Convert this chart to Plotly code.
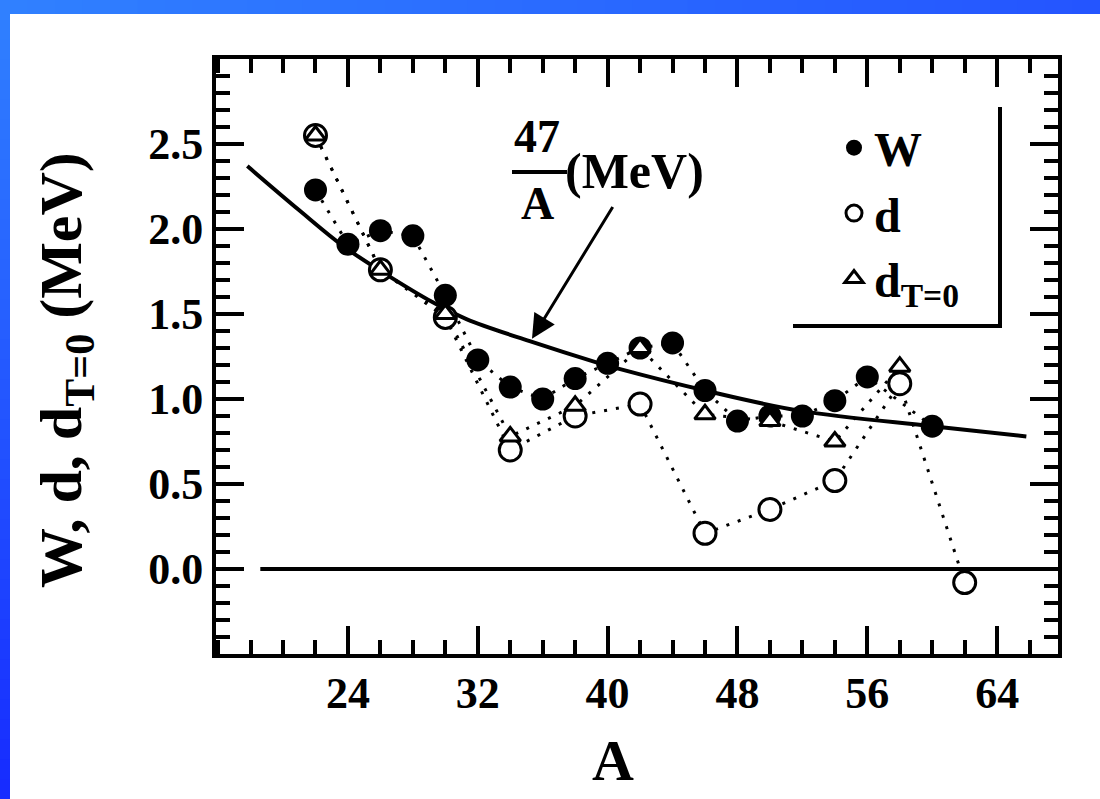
import plotly.graph_objects as go

# ---- measured values -------------------------------------------------------
# W (filled circles), even A
A_W = [22, 24, 26, 28, 30, 32, 34, 36, 38, 40, 42, 44, 46, 48, 50, 52, 54, 56, 60]
W = [2.23, 1.91, 1.99, 1.96, 1.61, 1.23, 1.07, 1.00, 1.12, 1.21, 1.30, 1.33,
     1.05, 0.87, 0.90, 0.90, 0.99, 1.13, 0.84]

# d (open circles), odd-odd N=Z nuclei
A_d = [22, 26, 30, 34, 38, 42, 46, 50, 54, 58, 62]
d = [2.55, 1.76, 1.48, 0.70, 0.90, 0.97, 0.21, 0.35, 0.52, 1.09, -0.08]

# d_{T=0} (open triangles)
A_dT = [22, 26, 30, 34, 38, 42, 46, 50, 54, 58]
dT = [2.55, 1.76, 1.50, 0.78, 0.96, 1.30, 0.91, 0.87, 0.75, 1.19]

# smooth reference curve labelled 47/A
A_curve = [17.8, 21.0, 23.7, 26.4, 29.2, 31.3, 35.2, 39.5, 40.6, 46.0, 51.9, 60.0, 65.8]
curve = [2.37, 2.11, 1.90, 1.73, 1.57, 1.47, 1.34, 1.21, 1.18, 1.05, 0.93, 0.84, 0.78]

# tick positions and labels
x_labelvals = [24, 32, 40, 48, 56, 64]
x_labeltext = ["24", "32", "40", "48", "56", "64"]
x_plainvals = [20, 28, 36, 44, 52, 60]          # long ticks without a label
y_tickvals = [0.0, 0.5, 1.0, 1.5, 2.0, 2.5]
y_ticktext = ["0.0", "0.5", "1.0", "1.5", "2.0", "2.5"]

# ---- geometry helpers ------------------------------------------------------
FONT = "Liberation Serif"
FIG_W, FIG_H = 1100, 799
L, R, T, B = 216, 42, 59, 145
PW = FIG_W - L - R
PH = FIG_H - T - B
X_RANGE = [15.87, 67.75]


def px(x):
    return (x - L) / PW


def py(y):
    return (FIG_H - B - y) / PH


def bold(size):
    return dict(family=FONT, size=size, color="black", weight="bold")


dotted = dict(color="black", width=3, dash="3px,9px")

fig = go.Figure()

fig.add_trace(go.Scatter(x=A_curve, y=curve, mode="lines", showlegend=False,
                         line=dict(color="black", width=4, shape="spline", smoothing=1.0),
                         hoverinfo="skip"))
for xs, ys in ((A_W, W), (A_d, d), (A_dT, dT)):
    fig.add_trace(go.Scatter(x=xs, y=ys, mode="lines", line=dotted,
                             showlegend=False, hoverinfo="skip"))

fig.add_trace(go.Scatter(x=A_W, y=W, mode="markers", name="W", legendgroup="w",
                         marker=dict(symbol="circle", size=23, color="black")))
fig.add_trace(go.Scatter(x=A_d, y=d, mode="markers", name="d", legendgroup="d",
                         marker=dict(symbol="circle", size=22, color="white",
                                     line=dict(color="black", width=3))))
fig.add_trace(go.Scatter(x=A_dT, y=dT, mode="markers", name="d<sub>T=0</sub>",
                         legendgroup="dt",
                         marker=dict(symbol="triangle-up", size=18, color="white",
                                     line=dict(color="black", width=3))))

shapes = []

# zero line
shapes.append(dict(type="line", xref="x", yref="y", x0=18.6, x1=X_RANGE[1], y0=0, y1=0,
                   line=dict(color="black", width=4)))

# legend frame (right and bottom edges)
shapes.append(dict(type="line", xref="paper", yref="paper",
                   x0=px(1000), x1=px(1000), y0=py(107), y1=py(326),
                   line=dict(color="black", width=4)))
shapes.append(dict(type="line", xref="paper", yref="paper",
                   x0=px(793), x1=px(1002), y0=py(326), y1=py(326),
                   line=dict(color="black", width=4)))

# fraction bar of the 47/A label
shapes.append(dict(type="line", xref="paper", yref="paper",
                   x0=px(512), x1=px(567), y0=py(172), y1=py(172),
                   line=dict(color="black", width=4)))


# blue gradient border (left and top strips)
def mix(c0, c1, t):
    return "rgb(%d,%d,%d)" % tuple(round(a + (b - a) * t) for a, b in zip(c0, c1))


N = 40
top_left, bottom_left, top_right = (48, 128, 255), (22, 42, 255), (36, 84, 255)
for i in range(N):
    t0, t1 = i / N, (i + 1) / N
    shapes.append(dict(type="rect", xref="paper", yref="paper", layer="above",
                       x0=px(0), x1=px(10), y0=py(FIG_H * t1 + 1), y1=py(FIG_H * t0),
                       fillcolor=mix(top_left, bottom_left, t0), line=dict(width=0)))
    shapes.append(dict(type="rect", xref="paper", yref="paper", layer="above",
                       x0=px(FIG_W * t0), x1=px(FIG_W * t1 + 1), y0=py(14), y1=py(0),
                       fillcolor=mix(top_left, top_right, t0), line=dict(width=0)))

annotations = [
    dict(text="47", x=px(537), y=py(136), xref="paper", yref="paper",
         showarrow=False, font=bold(46), xanchor="center", yanchor="middle"),
    dict(text="A", x=px(537), y=py(203), xref="paper", yref="paper",
         showarrow=False, font=bold(46), xanchor="center", yanchor="middle"),
    # "(MeV)" with the arrow pointing at the curve
    dict(text="(MeV)", x=35.34, y=1.355, xref="x", yref="y", ax=103, ay=-168,
         showarrow=True, arrowhead=2, arrowsize=1.6, arrowwidth=3, arrowcolor="black",
         standoff=0, startstandoff=8, font=bold(50)),
    # axis titles
    dict(text="A", x=px(613), y=py(760), xref="paper", yref="paper",
         showarrow=False, font=bold(58), xanchor="center", yanchor="middle"),
    dict(text="W, d, d<sub>T=0</sub> (MeV)", x=px(66), y=py(370), xref="paper",
         yref="paper", showarrow=False, font=bold(60), textangle=-90,
         xanchor="center", yanchor="middle"),
]

axis_common = dict(showline=True, linecolor="black", linewidth=4, mirror="ticks",
                   ticks="inside", tickcolor="black", tickwidth=3.5, ticklen=28,
                   showgrid=False, zeroline=False, tickfont=bold(44))

fig.update_layout(
    xaxis=dict(range=X_RANGE, tickmode="array", tickvals=x_labelvals,
               ticktext=x_labeltext, ticklabelstandoff=-3,
               minor=dict(ticks="inside", tick0=0, dtick=2, ticklen=14, tickwidth=3.5,
                          tickcolor="black", showgrid=False),
               **axis_common),
    # second set of long x ticks (every 4 units between the labelled ones)
    xaxis2=dict(range=X_RANGE, overlaying="x", anchor="y", side="bottom",
                tickmode="array", tickvals=x_plainvals, showticklabels=False,
                ticks="inside", ticklen=28, tickwidth=3.5, tickcolor="black",
                mirror="ticks", showline=False, showgrid=False, zeroline=False),
    yaxis=dict(range=[-0.5, 3.0], tickmode="array", tickvals=y_tickvals,
               ticktext=y_ticktext, ticklabelstandoff=0,
               minor=dict(ticks="inside", tick0=0, dtick=0.1, ticklen=14, tickwidth=3.5,
                          tickcolor="black", showgrid=False),
               **axis_common),
)

fig.update_layout(
    width=FIG_W, height=FIG_H,
    margin=dict(l=L, r=R, t=T, b=B, pad=0),
    paper_bgcolor="white", plot_bgcolor="white",
    showlegend=True,
    legend=dict(x=px(834), y=py(110), xanchor="left", yanchor="top",
                bgcolor="rgba(0,0,0,0)", font=bold(48), tracegroupgap=0,
                itemclick=False, itemdoubleclick=False),
    shapes=shapes,
    annotations=annotations,
)

fig.write_html("out.html")
